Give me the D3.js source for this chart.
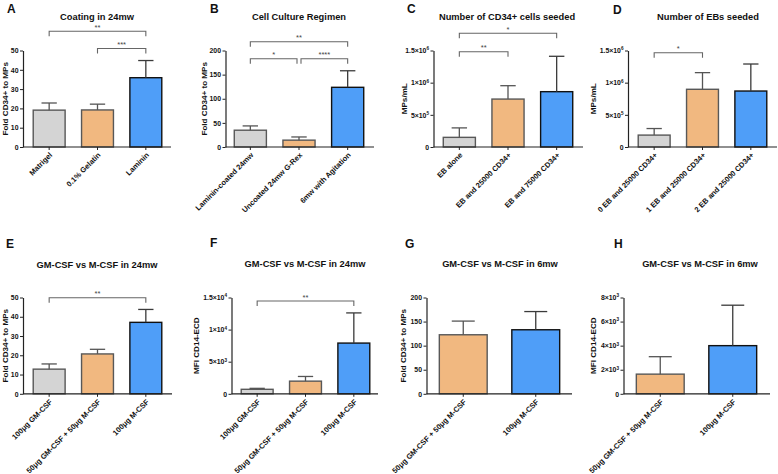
<!DOCTYPE html>
<html>
<head>
<meta charset="utf-8">
<script src="https://cdn.jsdelivr.net/npm/d3@7"></script>
<style>
  body { margin: 0; background: #fff; }
  svg { display: block; }
</style>
</head>
<body>
<script>
// values (mean, sd, significance brackets)
const catA = ['Matrigel', '0.1% Gelatin', 'Laminin'];
const meanA = [19.1, 19.2, 35.9];
const sdA = [3.7, 3.0, 8.9];
const ticksA = [0, 10, 20, 30, 40, 50];
const sigA = [[0, 2, '**', 60], [1, 2, '***', 51]];

const catB = ['Laminin-coated 24mw', 'Uncoated 24mw G-Rex', '6mw with Agitation'];
const meanB = [34.8, 14.2, 123.7];
const sdB = [8.9, 6.6, 34.3];
const ticksB = [0, 50, 100, 150, 200];
const sigB = [[0, 2, '**', 218], [0, 1, '*', 183], [1, 2, '****', 183]];

const catC = ['EB alone', 'EB and 25000 CD34+', 'EB and 75000 CD34+'];
const meanC = [150000, 745000, 860000];
const sdC = [147000, 208000, 550000];
const ticksC = [0, 500000, 1000000, 1500000];
const sigC = [[0, 2, '*', 1767000], [0, 1, '**', 1480000]];

const catD = ['0 EB and 25000 CD34+', '1 EB and 25000 CD34+', '2 EB and 25000 CD34+'];
const meanD = [185000, 897000, 870000];
const sdD = [102000, 259000, 420000];
const ticksD = [0, 500000, 1000000, 1500000];
const sigD = [[0, 1, '*', 1466000]];

const catE = ['100\u03bcg GM-CSF', '50\u03bcg GM-CSF + 50\u03bcg M-CSF', '100\u03bcg M-CSF'];
const meanE = [12.8, 20.7, 37.1];
const sdE = [2.7, 2.4, 6.7];
const ticksE = [0, 10, 20, 30, 40, 50];
const sigE = [[0, 2, '**', 49.9]];

const catF = ['100\u03bcg GM-CSF', '50\u03bcg GM-CSF + 50\u03bcg M-CSF', '100\u03bcg M-CSF'];
const meanF = [700, 1970, 7900];
const sdF = [150, 730, 4700];
const ticksF = [0, 5000, 10000, 15000];
const sigF = [[0, 2, '**', 14450]];

const catG = ['50\u03bcg GM-CSF + 50\u03bcg M-CSF', '100\u03bcg M-CSF'];
const meanG = [122.6, 133];
const sdG = [28.4, 37.8];
const ticksG = [0, 50, 100, 150, 200];
const sigG = [];

const catH = ['50\u03bcg GM-CSF + 50\u03bcg M-CSF', '100\u03bcg M-CSF'];
const meanH = [1633, 4000];
const sdH = [1450, 3360];
const ticksH = [0, 2000, 4000, 6000, 8000];
const sigH = [];

const FONT = '"Liberation Sans", Arial, Helvetica, sans-serif';
const fills = { gray: '#d4d4d4', orange: '#f1b880', blue: '#4f9ef8' };
const strokes = { gray: '#585858', orange: '#585858', blue: '#111' };
const errColor = { gray: '#555', orange: '#555', blue: '#3a3a3a' };

const panels = [
  { letter: 'A', title: 'Coating in 24mw', yLabel: 'Fold CD34+ to MPs', cats: catA, mean: meanA, sd: sdA, ticks: ticksA, sig: sigA, sci: false,
    x0: 23, x1: 171, b0: 25, b1: 170, top: 50.5, bot: 147, ylx: 5.5, tx: 97, ty: 20, lx: 7, ly: 13, cols: ['gray', 'orange', 'blue'] },
  { letter: 'B', title: 'Cell Culture Regimen', yLabel: 'Fold CD34+ to MPs', cats: catB, mean: meanB, sd: sdB, ticks: ticksB, sig: sigB, sci: false,
    x0: 225.5, x1: 374, b0: 226, b1: 372, top: 50.5, bot: 147, ylx: 204, tx: 299, ty: 20, lx: 210, ly: 13, cols: ['gray', 'orange', 'blue'] },
  { letter: 'C', title: 'Number of CD34+ cells seeded', yLabel: 'MPs/mL', cats: catC, mean: meanC, sd: sdC, ticks: ticksC, sig: sigC, sci: true,
    x0: 433.5, x1: 583, b0: 435, b1: 581, top: 50.5, bot: 147, ylx: 404.5, tx: 507, ty: 20, lx: 407, ly: 13, cols: ['gray', 'orange', 'blue'] },
  { letter: 'D', title: 'Number of EBs seeded', yLabel: 'MPs/mL', cats: catD, mean: meanD, sd: sdD, ticks: ticksD, sig: sigD, sci: true,
    x0: 628, x1: 777, b0: 630, b1: 775, top: 50.5, bot: 147, ylx: 593, tx: 708, ty: 20, lx: 613, ly: 14, cols: ['gray', 'orange', 'blue'] },
  { letter: 'E', title: 'GM-CSF vs M-CSF in 24mw', yLabel: 'Fold CD34+ to MPs', cats: catE, mean: meanE, sd: sdE, ticks: ticksE, sig: sigE, sci: false,
    x0: 23, x1: 172, b0: 25, b1: 170, top: 297.5, bot: 393.8, ylx: 5.5, tx: 97, ty: 268, lx: 6, ly: 248, cols: ['gray', 'orange', 'blue'] },
  { letter: 'F', title: 'GM-CSF vs M-CSF in 24mw', yLabel: 'MFI CD14-ECD', cats: catF, mean: meanF, sd: sdF, ticks: ticksF, sig: sigF, sci: true,
    x0: 231.5, x1: 378, b0: 233, b1: 378, top: 297.5, bot: 393.8, ylx: 196, tx: 305, ty: 267, lx: 210, ly: 247, cols: ['gray', 'orange', 'blue'] },
  { letter: 'G', title: 'GM-CSF vs M-CSF in 6mw', yLabel: 'Fold CD34+ to MPs', cats: catG, mean: meanG, sd: sdG, ticks: ticksG, sig: sigG, sci: false,
    x0: 426.5, x1: 572, b0: 427, b1: 572, top: 297.5, bot: 393.8, ylx: 403.5, tx: 500, ty: 267, lx: 405, ly: 248, cols: ['orange', 'blue'] },
  { letter: 'H', title: 'GM-CSF vs M-CSF in 6mw', yLabel: 'MFI CD14-ECD', cats: catH, mean: meanH, sd: sdH, ticks: ticksH, sig: sigH, sci: true,
    x0: 623.5, x1: 770, b0: 624, b1: 769, top: 297.5, bot: 393.8, ylx: 593, tx: 700, ty: 267, lx: 614, ly: 248, cols: ['orange', 'blue'] }
];

const svg = d3.select('body').append('svg')
  .attr('width', 778).attr('height', 474)
  .style('font-family', FONT);

// tick label like 1.5×10^6 with a raised exponent
function sciLabel(text) {
  text.each(function(v) {
    const t = d3.select(this).text(null);
    if (v === 0) { t.text('0'); return; }
    const e = Math.floor(Math.log10(v) + 1e-9);
    const m = +(v / Math.pow(10, e)).toFixed(2);
    t.append('tspan').text(m + '\u00d710');
    t.append('tspan').text(e).attr('font-size', 4.6).attr('dy', -2.8);
  });
}

function drawPanel(p) {
  const g = svg.append('g');
  const y = d3.scaleLinear().domain([0, p.ticks[p.ticks.length - 1]]).range([p.bot, p.top]);
  const x = d3.scaleBand().domain(p.cats).range([p.b0, p.b1]);
  const bw = x.step() * 0.66;
  const cx = d => x(d) + x.bandwidth() / 2;

  // y axis
  const ya = g.append('g').attr('transform', 'translate(' + p.x0 + ',0)')
    .call(d3.axisLeft(y).tickValues(p.ticks).tickSize(3).tickSizeOuter(0).tickPadding(1.5));
  ya.select('.domain').attr('stroke', '#222').attr('stroke-width', 1.2);
  ya.selectAll('.tick line').attr('stroke', '#222').attr('stroke-width', 1);
  ya.selectAll('.tick text').attr('font-size', 6.9).attr('font-weight', 'bold').attr('fill', '#111').attr('font-family', FONT);
  if (p.sci) ya.selectAll('.tick text').call(sciLabel);

  // bars
  const rows = p.cats.map((c, i) => ({ c: c, m: p.mean[i], s: p.sd[i], col: p.cols[i] }));
  g.selectAll('rect.bar').data(rows).enter().append('rect')
    .attr('class', 'bar')
    .attr('x', d => cx(d.c) - bw / 2)
    .attr('y', d => y(d.m))
    .attr('width', bw)
    .attr('height', d => y(0) - y(d.m))
    .attr('fill', d => fills[d.col])
    .attr('stroke', d => strokes[d.col])
    .attr('stroke-width', 1.4);

  // error bars (upper only)
  const eb = g.selectAll('g.err').data(rows).enter().append('g').attr('class', 'err')
    .attr('stroke', d => errColor[d.col]).attr('stroke-width', 1.3);
  eb.append('line')
    .attr('x1', d => cx(d.c)).attr('x2', d => cx(d.c))
    .attr('y1', d => y(d.m)).attr('y2', d => y(d.m + d.s));
  eb.append('line')
    .attr('x1', d => cx(d.c) - bw * 0.24).attr('x2', d => cx(d.c) + bw * 0.24)
    .attr('y1', d => y(d.m + d.s)).attr('y2', d => y(d.m + d.s));

  // x axis
  const xa = g.append('g').attr('transform', 'translate(0,' + p.bot + ')')
    .call(d3.axisBottom(x).tickSize(3).tickSizeOuter(0).tickFormat(''));
  xa.select('.domain').attr('d', 'M' + p.x0 + ',0H' + p.x1).attr('stroke', '#222').attr('stroke-width', 1.2);
  xa.selectAll('.tick line').attr('stroke', '#222');

  g.selectAll('text.xl').data(p.cats).enter().append('text')
    .attr('class', 'xl')
    .attr('transform', d => 'translate(' + (cx(d) + 2) + ',' + (p.bot + 7) + ') rotate(-45)')
    .attr('text-anchor', 'end')
    .attr('dy', '0.3em')
    .attr('font-size', 7.5).attr('font-weight', 'bold').attr('fill', '#111')
    .text(d => d);

  // significance brackets
  p.sig.forEach(s => {
    let xa1 = cx(p.cats[s[0]]), xa2 = cx(p.cats[s[1]]);
    const shared = p.sig.filter(o => o !== s && o[3] === s[3]);
    if (shared.some(o => o[0] === s[1])) xa2 -= 2;
    if (shared.some(o => o[1] === s[0])) xa1 += 2;
    const yy = y(s[3]);
    g.append('path')
      .attr('d', 'M' + xa1 + ',' + (yy + 5) + 'V' + yy + 'H' + xa2 + 'V' + (yy + 5))
      .attr('fill', 'none').attr('stroke', '#666').attr('stroke-width', 1.1);
    g.append('text')
      .attr('x', (xa1 + xa2) / 2).attr('y', yy - 1.5)
      .attr('text-anchor', 'middle').attr('font-size', 7.5).attr('fill', '#444')
      .text(s[2]);
  });

  // y label, title, panel letter
  g.append('text')
    .attr('transform', 'translate(' + p.ylx + ',' + ((p.top + p.bot) / 2) + ') rotate(-90)')
    .attr('text-anchor', 'middle').attr('dy', '0.35em')
    .attr('font-size', 8.1).attr('font-weight', 'bold').attr('fill', '#111')
    .text(p.yLabel);
  g.append('text')
    .attr('x', p.tx).attr('y', p.ty)
    .attr('text-anchor', 'middle')
    .attr('font-size', 9.3).attr('font-weight', 'bold').attr('fill', '#111')
    .text(p.title);
  g.append('text')
    .attr('x', p.lx).attr('y', p.ly)
    .attr('font-size', 12).attr('font-weight', 'bold').attr('fill', '#111')
    .text(p.letter);
}

panels.forEach(drawPanel);
</script>
</body>
</html>
